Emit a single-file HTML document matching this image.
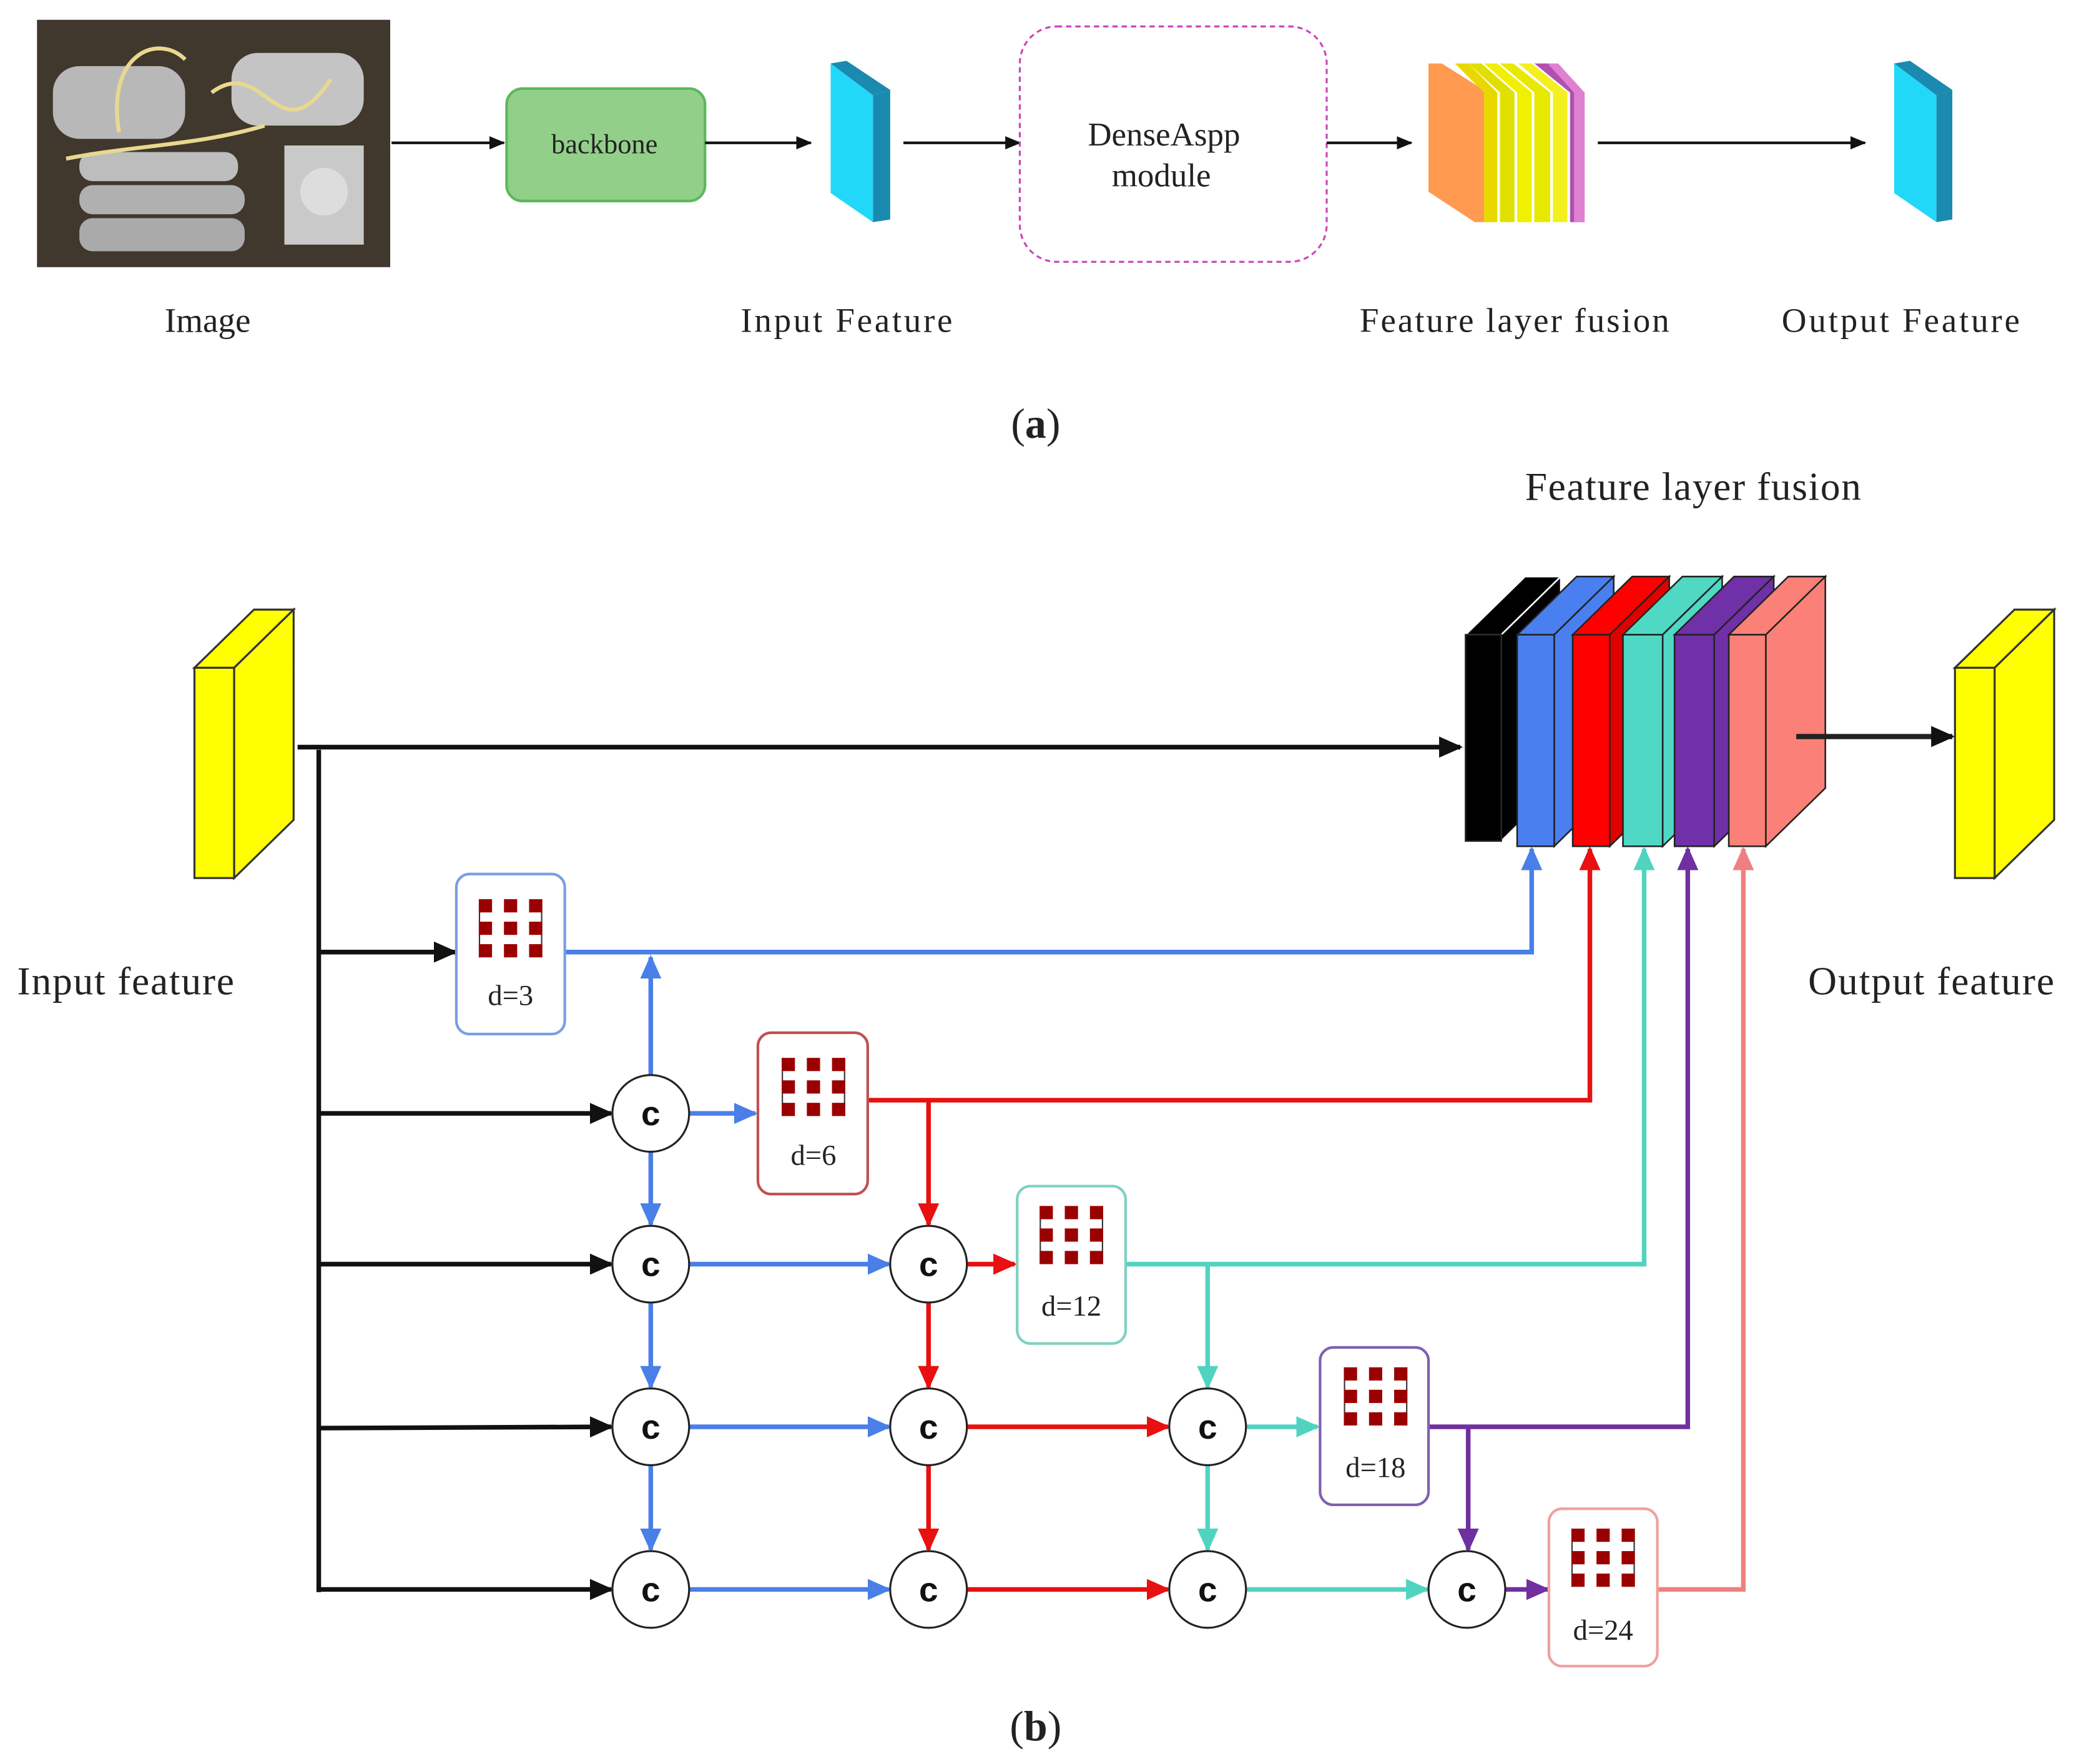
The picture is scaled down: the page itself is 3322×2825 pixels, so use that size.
<!DOCTYPE html>
<html><head><meta charset="utf-8"><style>html,body{margin:0;padding:0;background:#fff}svg{display:block}text{font-family:"Liberation Serif",serif;fill:#222}text.cc{font-family:"Liberation Sans",sans-serif;font-weight:bold;fill:#111}</style></head><body>
<svg width="3322" height="2825" viewBox="0 0 1568 1334" preserveAspectRatio="none" xmlns="http://www.w3.org/2000/svg">
<defs>
<marker id="mk" markerUnits="userSpaceOnUse" markerWidth="20" markerHeight="20" refX="16" refY="8" orient="auto"><path d="M0,0 L18,8 L0,16 Z" fill="#111"/></marker>
<marker id="ms" markerUnits="userSpaceOnUse" markerWidth="14" markerHeight="14" refX="11" refY="5" orient="auto"><path d="M0,0 L12,5 L0,10 Z" fill="#111"/></marker>
<marker id="mb" markerUnits="userSpaceOnUse" markerWidth="20" markerHeight="20" refX="16" refY="8" orient="auto"><path d="M0,0 L18,8 L0,16 Z" fill="#4a7fe8"/></marker>
<marker id="mr" markerUnits="userSpaceOnUse" markerWidth="20" markerHeight="20" refX="16" refY="8" orient="auto"><path d="M0,0 L18,8 L0,16 Z" fill="#e81010"/></marker>
<marker id="mt" markerUnits="userSpaceOnUse" markerWidth="20" markerHeight="20" refX="16" refY="8" orient="auto"><path d="M0,0 L18,8 L0,16 Z" fill="#50d4c0"/></marker>
<marker id="mp" markerUnits="userSpaceOnUse" markerWidth="20" markerHeight="20" refX="16" refY="8" orient="auto"><path d="M0,0 L18,8 L0,16 Z" fill="#7030a0"/></marker>
<marker id="mo" markerUnits="userSpaceOnUse" markerWidth="20" markerHeight="20" refX="16" refY="8" orient="auto"><path d="M0,0 L18,8 L0,16 Z" fill="#f08080"/></marker>
<g id="grid"><rect x="0" y="0" width="48" height="44" fill="#fff"/>
<line x1="0.5" y1="0" x2="0.5" y2="44" stroke="#333" stroke-width="1"/><line x1="47.5" y1="0" x2="47.5" y2="44" stroke="#333" stroke-width="1"/>
<g fill="#9b0000"><rect x="0" y="0" width="10" height="10"/><rect x="19" y="0" width="10" height="10"/><rect x="38" y="0" width="10" height="10"/><rect x="0" y="17" width="10" height="10"/><rect x="19" y="17" width="10" height="10"/><rect x="38" y="17" width="10" height="10"/><rect x="0" y="34" width="10" height="10"/><rect x="19" y="34" width="10" height="10"/><rect x="38" y="34" width="10" height="10"/></g></g>
</defs>

<!-- (a) -->
<rect x="28" y="15" width="267" height="187" fill="#2a2520"/>
<rect x="28" y="15" width="267" height="187" fill="#6b5a48" opacity="0.35"/>
<rect x="40" y="50" width="100" height="55" rx="20" fill="#b8b8b8"/>
<rect x="175" y="40" width="100" height="55" rx="20" fill="#c4c4c4"/>
<rect x="60" y="115" width="120" height="22" rx="10" fill="#bdbdbd"/>
<rect x="60" y="140" width="125" height="22" rx="10" fill="#b0b0b0"/>
<rect x="60" y="165" width="125" height="25" rx="10" fill="#aaa"/>
<rect x="215" y="110" width="60" height="75" fill="#c9c9c9"/>
<circle cx="245" cy="145" r="18" fill="#ddd"/>
<path d="M90,100 C80,40 120,25 140,45 M160,70 C200,40 210,120 250,60 M50,120 C100,110 150,110 200,95" stroke="#e8d890" stroke-width="3" fill="none"/>

<line x1="296" y1="108" x2="381" y2="108" stroke="#111" stroke-width="2" marker-end="url(#ms)"/>
<rect x="383" y="67" width="150" height="85" rx="12" fill="#92d08a" stroke="#5cb85c" stroke-width="2"/>
<text x="457" y="116" font-size="21" text-anchor="middle">backbone</text>
<line x1="533" y1="108" x2="613" y2="108" stroke="#111" stroke-width="2" marker-end="url(#ms)"/>
<polygon points="628,48 660,72 660,168 628,146" fill="#22d8f8"/>
<polygon points="628,48 640,46 673,68 660,72" fill="#1a8ab0"/>
<polygon points="660,72 673,68 673,166 660,168" fill="#1a8ab0"/>
<line x1="683" y1="108" x2="771" y2="108" stroke="#111" stroke-width="2" marker-end="url(#ms)"/>
<rect x="771" y="20" width="232" height="178" rx="28" fill="none" stroke="#cc44bb" stroke-width="1.5" stroke-dasharray="4,3"/>
<text x="880" y="110" font-size="25" text-anchor="middle">DenseAspp</text>
<text x="878" y="141" font-size="25" text-anchor="middle">module</text>
<line x1="1003" y1="108" x2="1067" y2="108" stroke="#111" stroke-width="2" marker-end="url(#ms)"/>
<polygon points="1080,48 1090,48 1125,70 1125,168 1115,168 1080,145" fill="#ff9a50"/>
<polygon points="1100,48 1110,48 1132,70 1132,168 1122,168 1122,70" fill="#e8d800"/>
<polygon points="1110,48 1120,48 1145,70 1145,168 1134,168 1134,70" fill="#e0e000"/>
<polygon points="1122,48 1132,48 1158,70 1158,168 1147,168 1147,70" fill="#f0f000"/>
<polygon points="1134,48 1144,48 1172,70 1172,168 1160,168 1160,70" fill="#e8e800"/>
<polygon points="1148,48 1158,48 1185,70 1185,168 1174,168 1174,70" fill="#f4ef20"/>
<polygon points="1160,48 1170,48 1198,70 1198,168 1187,168 1187,70" fill="#b050b0"/>
<polygon points="1170,48 1178,48 1198,70 1198,168 1190,168 1190,70" fill="#e080d0"/>
<line x1="1208" y1="108" x2="1410" y2="108" stroke="#111" stroke-width="2" marker-end="url(#ms)"/>
<polygon points="1432,48 1464,72 1464,168 1432,146" fill="#22d8f8"/>
<polygon points="1432,48 1444,46 1476,68 1464,72" fill="#1a8ab0"/>
<polygon points="1464,72 1476,68 1476,166 1464,168" fill="#1a8ab0"/>

<text x="157" y="251" font-size="26" text-anchor="middle">Image</text>
<text x="640" y="251" font-size="26" text-anchor="middle" textLength="160">Input Feature</text>
<text x="1145" y="251" font-size="26" text-anchor="middle" textLength="234">Feature layer fusion</text>
<text x="1437" y="251" font-size="26" text-anchor="middle" textLength="180">Output Feature</text>
<text x="783" y="331" font-size="32" text-anchor="middle">(<tspan font-weight="bold">a</tspan>)</text>

<!-- (b) -->
<text x="1280" y="378" font-size="30" text-anchor="middle" textLength="254">Feature layer fusion</text>
<g stroke="#333" stroke-width="1.5">
<polygon points="147,505 192,461 222,461 177,505" fill="#ffff00"/>
<polygon points="177,505 222,461 222,620 177,664" fill="#ffff00"/>
<rect x="147" y="505" width="30" height="159" fill="#ffff00"/>
</g>
<text x="95" y="752" font-size="30" text-anchor="middle" textLength="164">Input feature</text>

<g stroke="#222" stroke-width="1.2">
<polygon points="1108,480 1153,436 1180,436 1135,480" fill="#000" stroke="#fff"/>
<polygon points="1135,480 1180,436 1180,592 1135,636" fill="#000" stroke="#fff"/>
<rect x="1108" y="480" width="27" height="156" fill="#000"/>
<polygon points="1147,480 1192,436 1220,436 1175,480" fill="#4a7ff0"/>
<polygon points="1175,480 1220,436 1220,596 1175,640" fill="#4a7ff0"/>
<rect x="1147" y="480" width="28" height="160" fill="#4a7ff0"/>
<polygon points="1189,480 1234,436 1262,436 1217,480" fill="#ff0000"/>
<polygon points="1217,480 1262,436 1262,596 1217,640" fill="#e00000"/>
<rect x="1189" y="480" width="28" height="160" fill="#ff0000"/>
<polygon points="1227,480 1272,436 1302,436 1257,480" fill="#4fd8c4"/>
<polygon points="1257,480 1302,436 1302,596 1257,640" fill="#4fd8c4"/>
<rect x="1227" y="480" width="30" height="160" fill="#4fd8c4"/>
<polygon points="1266,480 1311,436 1341,436 1296,480" fill="#7030a8"/>
<polygon points="1296,480 1341,436 1341,596 1296,640" fill="#7030a8"/>
<rect x="1266" y="480" width="30" height="160" fill="#7030a8"/>
<polygon points="1307,480 1352,436 1380,436 1335,480" fill="#fa8078"/>
<polygon points="1335,480 1380,436 1380,596 1335,640" fill="#fa8078"/>
<rect x="1307" y="480" width="28" height="160" fill="#fa8078"/>
</g>
<line x1="1358" y1="557" x2="1476" y2="557" stroke="#222" stroke-width="4" marker-end="url(#mk)"/>
<g stroke="#333" stroke-width="1.5">
<polygon points="1478,505 1523,461 1553,461 1508,505" fill="#ffff00"/>
<polygon points="1508,505 1553,461 1553,620 1508,664" fill="#ffff00"/>
<rect x="1478" y="505" width="30" height="159" fill="#ffff00"/>
</g>
<text x="1460" y="752" font-size="30" text-anchor="middle" textLength="186">Output feature</text>

<g stroke="#111" stroke-width="3.5" fill="none">
<line x1="225" y1="565" x2="1104" y2="565" marker-end="url(#mk)"/>
<line x1="241" y1="567" x2="241" y2="1204"/>
<line x1="241" y1="720" x2="344" y2="720" marker-end="url(#mk)"/>
<line x1="241" y1="842" x2="462" y2="842" marker-end="url(#mk)"/>
<line x1="241" y1="956" x2="462" y2="956" marker-end="url(#mk)"/>
<line x1="241" y1="1080" x2="462" y2="1079" marker-end="url(#mk)"/>
<line x1="241" y1="1202" x2="462" y2="1202" marker-end="url(#mk)"/>
</g>

<g stroke="#4a7fe8" stroke-width="3.5" fill="none">
<polyline points="427,720 1158,720 1158,642" marker-end="url(#mb)"/>
<line x1="492" y1="813" x2="492" y2="724" marker-end="url(#mb)"/>
<line x1="521" y1="842" x2="571" y2="842" marker-end="url(#mb)"/>
<line x1="492" y1="871" x2="492" y2="926" marker-end="url(#mb)"/>
<line x1="492" y1="985" x2="492" y2="1049" marker-end="url(#mb)"/>
<line x1="492" y1="1108" x2="492" y2="1172" marker-end="url(#mb)"/>
<line x1="521" y1="956" x2="672" y2="956" marker-end="url(#mb)"/>
<line x1="521" y1="1079" x2="672" y2="1079" marker-end="url(#mb)"/>
<line x1="521" y1="1202" x2="672" y2="1202" marker-end="url(#mb)"/>
</g>
<g stroke="#e81010" stroke-width="3.5" fill="none">
<polyline points="656,832 1202,832 1202,642" marker-end="url(#mr)"/>
<line x1="702" y1="832" x2="702" y2="926" marker-end="url(#mr)"/>
<line x1="731" y1="956" x2="767" y2="956" marker-end="url(#mr)"/>
<line x1="702" y1="985" x2="702" y2="1049" marker-end="url(#mr)"/>
<line x1="702" y1="1108" x2="702" y2="1172" marker-end="url(#mr)"/>
<line x1="731" y1="1079" x2="883" y2="1079" marker-end="url(#mr)"/>
<line x1="731" y1="1202" x2="883" y2="1202" marker-end="url(#mr)"/>
</g>
<g stroke="#50d4c0" stroke-width="3.5" fill="none">
<polyline points="851,956 1243,956 1243,642" marker-end="url(#mt)"/>
<line x1="913" y1="956" x2="913" y2="1049" marker-end="url(#mt)"/>
<line x1="942" y1="1079" x2="996" y2="1079" marker-end="url(#mt)"/>
<line x1="913" y1="1108" x2="913" y2="1172" marker-end="url(#mt)"/>
<line x1="942" y1="1202" x2="1079" y2="1202" marker-end="url(#mt)"/>
</g>
<g stroke="#7030a0" stroke-width="3.5" fill="none">
<polyline points="1080,1079 1276,1079 1276,642" marker-end="url(#mp)"/>
<line x1="1110" y1="1079" x2="1110" y2="1172" marker-end="url(#mp)"/>
<line x1="1138" y1="1202" x2="1170" y2="1202" marker-end="url(#mp)"/>
</g>
<polyline points="1253,1202 1318,1202 1318,642" stroke="#f08080" stroke-width="3.5" fill="none" marker-end="url(#mo)"/>

<rect x="345" y="661" width="82" height="121" rx="10" fill="#fff" stroke="#7a9ee0" stroke-width="2"/>
<use href="#grid" x="362" y="680"/><text x="386" y="760" font-size="22" text-anchor="middle">d=3</text>
<rect x="573" y="781" width="83" height="122" rx="10" fill="#fff" stroke="#c05050" stroke-width="2"/>
<use href="#grid" x="591" y="800"/><text x="615" y="881" font-size="22" text-anchor="middle">d=6</text>
<rect x="769" y="897" width="82" height="119" rx="10" fill="#fff" stroke="#80d0c0" stroke-width="2"/>
<use href="#grid" x="786" y="912"/><text x="810" y="995" font-size="22" text-anchor="middle">d=12</text>
<rect x="998" y="1019" width="82" height="119" rx="10" fill="#fff" stroke="#8060b0" stroke-width="2"/>
<use href="#grid" x="1016" y="1034"/><text x="1040" y="1117" font-size="22" text-anchor="middle">d=18</text>
<rect x="1171" y="1141" width="82" height="119" rx="10" fill="#fff" stroke="#f0a0a0" stroke-width="2"/>
<use href="#grid" x="1188" y="1156"/><text x="1212" y="1240" font-size="22" text-anchor="middle">d=24</text>

<g fill="#fff" stroke="#222" stroke-width="1.5">
<circle cx="492" cy="842" r="29"/><circle cx="492" cy="956" r="29"/><circle cx="492" cy="1079" r="29"/><circle cx="492" cy="1202" r="29"/>
<circle cx="702" cy="956" r="29"/><circle cx="702" cy="1079" r="29"/><circle cx="702" cy="1202" r="29"/>
<circle cx="913" cy="1079" r="29"/><circle cx="913" cy="1202" r="29"/><circle cx="1109" cy="1202" r="29"/>
</g>
<g text-anchor="middle" font-size="26">
<text class="cc" x="492" y="851">c</text><text class="cc" x="492" y="965">c</text><text class="cc" x="492" y="1088">c</text><text class="cc" x="492" y="1211">c</text>
<text class="cc" x="702" y="965">c</text><text class="cc" x="702" y="1088">c</text><text class="cc" x="702" y="1211">c</text>
<text class="cc" x="913" y="1088">c</text><text class="cc" x="913" y="1211">c</text><text class="cc" x="1109" y="1211">c</text>
</g>

<text x="783" y="1316" font-size="32" text-anchor="middle">(<tspan font-weight="bold">b</tspan>)</text>
</svg>
</body></html>
